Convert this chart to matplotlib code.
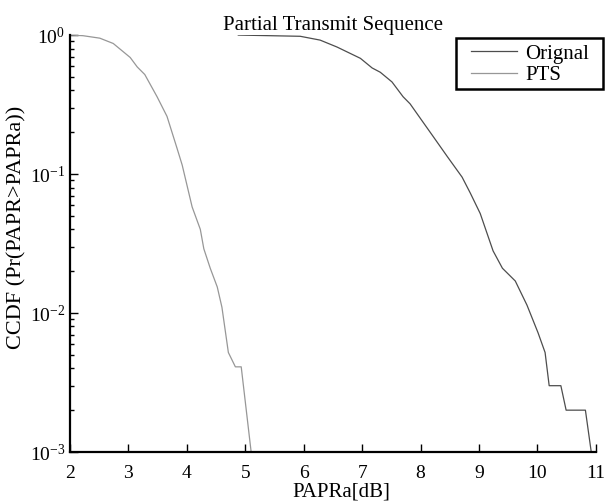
import numpy as np
import matplotlib
matplotlib.use("Agg")
import matplotlib.pyplot as plt
from matplotlib.ticker import LogLocator
from matplotlib.patches import Rectangle

plt.rcParams['font.family'] = ['Liberation Serif', 'DejaVu Serif']
plt.rcParams['mathtext.fontset'] = 'custom'
plt.rcParams['mathtext.rm'] = 'Liberation Serif'
plt.rcParams['mathtext.it'] = 'Liberation Serif:italic'

# CCDF curves
orig_x = [4.88, 5.94, 6.28, 6.57, 6.97, 7.17, 7.31, 7.51, 7.70, 7.82, 8.00, 8.22,
          8.46, 8.71, 8.85, 9.02, 9.24, 9.40, 9.62, 9.82, 10.01, 10.13, 10.20,
          10.40, 10.49, 10.82, 10.92]
orig_y = [1.0, 0.98, 0.92, 0.82, 0.68, 0.58, 0.54, 0.46, 0.36, 0.32, 0.25, 0.185,
          0.133, 0.095, 0.073, 0.052, 0.028, 0.021, 0.017, 0.0114, 0.0072, 0.0052,
          0.003, 0.003, 0.002, 0.002, 0.001]

pts_x = [2.0, 2.22, 2.51, 2.74, 3.03, 3.15, 3.28, 3.49, 3.66, 3.83, 3.92, 4.09,
         4.23, 4.29, 4.40, 4.52, 4.60, 4.71, 4.83, 4.93, 5.10, 5.30]
pts_y = [1.0, 0.99, 0.95, 0.87, 0.69, 0.59, 0.52, 0.36, 0.26, 0.154, 0.116, 0.058,
         0.040, 0.029, 0.021, 0.0154, 0.011, 0.0052, 0.0041, 0.0041, 0.001, 0.001]

x_ticks = [2, 3, 4, 5, 6, 7, 8, 9, 10, 11]
y_ticks = [1e-3, 1e-2, 1e-1, 1e0]
y_labels = [r'$10^{-3}$', r'$10^{-2}$', r'$10^{-1}$', r'$10^{0}$']

fig = plt.figure(figsize=(6.05, 5.01), dpi=100)
ax = fig.add_axes([0.1157, 0.0978, 0.8693, 0.8322])

ax.semilogy(orig_x, orig_y, color='#4d4d4d', lw=0.9, label='Orignal')
ax.semilogy(pts_x, pts_y, color='#979797', lw=0.9, label='PTS')

ax.set_xlim(2, 11)
ax.set_ylim(1e-3, 1)
ax.set_xticks(x_ticks)
ax.set_yticks(y_ticks)
ax.set_yticklabels(y_labels)
ax.yaxis.set_minor_locator(LogLocator(base=10, subs=np.arange(2, 10)))
ax.yaxis.set_minor_formatter(plt.NullFormatter())

for s in ['top', 'right']:
    ax.spines[s].set_visible(False)
for s in ['left', 'bottom']:
    ax.spines[s].set_linewidth(1.6)
ax.tick_params(which='both', direction='in', labelsize=14, width=1.0)
ax.tick_params(which='major', length=6)
ax.tick_params(which='minor', length=3)
ax.tick_params(axis='x', pad=9.5)

ax.set_title('Partial Transmit Sequence', fontsize=15, pad=2)
ax.set_xlabel('PAPRa[dB]', fontsize=15)
ax.xaxis.set_label_coords(0.515, -0.072)
ax.set_ylabel('CCDF (Pr(PAPR>PAPRa))', fontsize=16)
ax.yaxis.set_label_coords(-0.082, 0.538)

leg = ax.legend(loc='upper left', bbox_to_anchor=(471 / 605, 1 - 44 / 501),
                bbox_transform=fig.transFigure, fontsize=15, frameon=False,
                handlelength=2.2, borderpad=0, labelspacing=0.1,
                handletextpad=0.4, borderaxespad=0.0)

# legend box, wider than matplotlib's own padding allows
fig.patches.append(Rectangle((456 / 605, 1 - 89 / 501), 147 / 605, 51 / 501,
                             transform=fig.transFigure, fill=False,
                             edgecolor='black', lw=1.8))

fig.savefig('out.png', dpi=100)
